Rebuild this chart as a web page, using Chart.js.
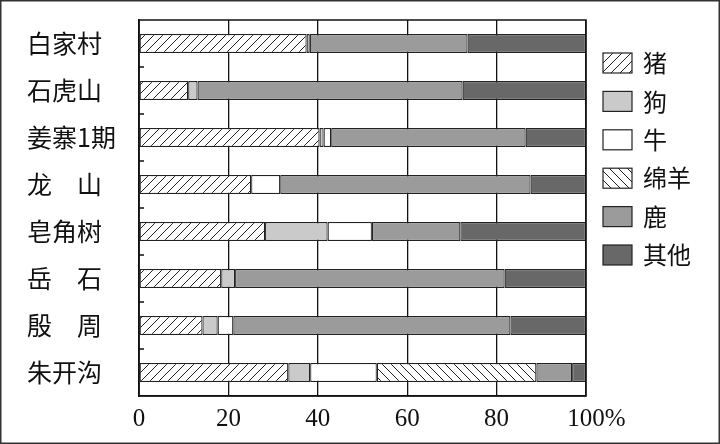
<!DOCTYPE html>
<html>
<head>
<meta charset="utf-8">
<script src="https://cdn.jsdelivr.net/npm/chart.js@4/dist/chart.umd.min.js"></script>
<style>
  body { margin: 0; background: #fff; }
  #wrap { width: 720px; height: 444px; }
</style>
</head>
<body>
<div id="wrap"><canvas id="chart" width="720" height="444"></canvas></div>
<script>
// 遗址
const sites = ['白家村', '石虎山', '姜寨1期', '龙\u3000山', '皂角树', '岳\u3000石', '殷\u3000周', '朱开沟'];

// 各类动物所占比例 (%)
const pig    = [37.5, 11.0, 40.4, 25.1, 28.2, 18.4, 14.2, 33.4];
const dog    = [0.7, 2.1, 0.9, 0, 14.0, 3.1, 3.4, 4.9];
const cattle = [0, 0, 1.7, 6.5, 9.9, 0, 3.5, 14.9];
const sheep  = [0, 0, 0, 0, 0, 0, 0, 35.7];
const deer   = [35.3, 59.3, 43.5, 56.0, 19.8, 60.3, 62.0, 8.0];
const other  = [26.5, 27.6, 13.5, 12.4, 28.1, 18.2, 16.9, 3.1];

const xTicks = [0, 20, 40, 60, 80, 100];

// 斜线填充
function hatch(dir) {
    const s = 9;
    const c = document.createElement('canvas');
    c.width = s; c.height = s;
    const g = c.getContext('2d');
    g.fillStyle = '#fff';
    g.fillRect(0, 0, s, s);
    g.strokeStyle = '#222';
    g.lineWidth = 1;
    g.beginPath();
    if (dir === '/') {
        g.moveTo(-1, s + 1); g.lineTo(s + 1, -1);
        g.moveTo(-2, 2); g.lineTo(2, -2);
        g.moveTo(s - 2, s + 2); g.lineTo(s + 2, s - 2);
    } else {
        g.moveTo(-1, -1); g.lineTo(s + 1, s + 1);
        g.moveTo(-2, s - 2); g.lineTo(2, s + 2);
        g.moveTo(s - 2, -2); g.lineTo(s + 2, 2);
    }
    g.stroke();
    return g.createPattern(c, 'repeat');
}

const series = [
    { label: '猪', data: pig, backgroundColor: hatch('/') },
    { label: '狗', data: dog, backgroundColor: '#cacaca' },
    { label: '牛', data: cattle, backgroundColor: '#ffffff' },
    { label: '绵羊', data: sheep, backgroundColor: hatch('\\') },
    { label: '鹿', data: deer, backgroundColor: '#9b9b9b' },
    { label: '其他', data: other, backgroundColor: '#686868' },
];

const decor = {
    id: 'decor',
    afterDraw(chart) {
        const { ctx, chartArea: a, scales: { x, y } } = chart;
        ctx.save();
        ctx.strokeStyle = '#111';
        ctx.lineWidth = 1.5;
        ctx.strokeRect(a.left, a.top, a.right - a.left, a.bottom - a.top);

        // 左侧小刻度
        ctx.beginPath();
        for (let i = 1; i < sites.length; i++) {
            const yy = (y.getPixelForValue(i - 1) + y.getPixelForValue(i)) / 2;
            ctx.moveTo(a.left, yy);
            ctx.lineTo(a.left + 5, yy);
        }
        ctx.stroke();

        // 100 后面的 %
        ctx.font = '25px "Liberation Serif"';
        ctx.fillStyle = '#111';
        ctx.textBaseline = 'middle';
        ctx.textAlign = 'left';
        const w100 = ctx.measureText('100').width;
        ctx.fillText('%', x.getPixelForValue(100) + w100 / 2, a.bottom + 8 + 15);

        // 外框
        ctx.lineWidth = 1.5;
        ctx.strokeStyle = '#333';
        ctx.strokeRect(0.75, 0.75, 718.5, 442.5);

        // 图例
        ctx.font = '24px "Noto Sans CJK SC"';
        ctx.textBaseline = 'middle';
        chart.data.datasets.forEach((ds, i) => {
            const cy = 63 + i * 38.4;
            ctx.fillStyle = ds.backgroundColor;
            ctx.fillRect(603, cy - 10, 29, 20);
            ctx.lineWidth = 1.2;
            ctx.strokeStyle = '#222';
            ctx.strokeRect(603, cy - 10, 29, 20);
            ctx.fillStyle = '#111';
            ctx.fillText(ds.label, 643, cy);
        });
        ctx.restore();
    }
};

new Chart(document.getElementById('chart'), {
    type: 'bar',
    data: {
        labels: sites,
        datasets: series.map(s => ({
            label: s.label,
            data: s.data,
            backgroundColor: s.backgroundColor,
            borderColor: '#222',
            borderWidth: 1.2,
            borderSkipped: false,
            barPercentage: 0.8,
            categoryPercentage: 0.5,
        })),
    },
    options: {
        indexAxis: 'y',
        responsive: false,
        animation: false,
        layout: { padding: { left: 27, right: 134, top: 20, bottom: 0 } },
        plugins: {
            legend: { display: false },
            tooltip: { enabled: false },
        },
        scales: {
            x: {
                stacked: true,
                min: 0,
                max: 100,
                afterBuildTicks: scale => { scale.ticks = xTicks.map(v => ({ value: v })); },
                afterFit: scale => { scale.height = 48; },
                grid: { color: '#111', lineWidth: 1.3, drawTicks: false },
                border: { display: true, color: '#111', width: 1.5 },
                ticks: {
                    padding: 8,
                    color: '#111',
                    font: { family: '"Liberation Serif"', size: 25 },
                },
            },
            y: {
                stacked: true,
                afterFit: scale => { scale.width = 112; },
                grid: { display: false },
                border: { display: true, color: '#111', width: 1.5 },
                ticks: {
                    crossAlign: 'far',
                    color: '#111',
                    font: { family: '"Noto Sans CJK SC"', size: 25 },
                },
            },
        },
    },
    plugins: [decor],
});
</script>
</body>
</html>
